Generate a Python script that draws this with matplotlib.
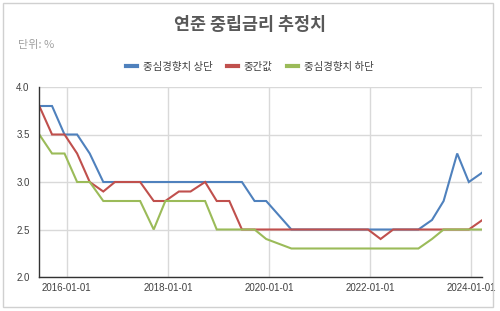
import matplotlib
matplotlib.use("Agg")
import matplotlib.pyplot as plt
import matplotlib.dates as mdates
from matplotlib.patches import Rectangle
import numpy as np
import pandas as pd

plt.rcParams['font.family'] = ['Noto Sans CJK KR', 'DejaVu Sans']

title = "연준 중립금리 추정치"
unit_label = "단위: %"
series_names = ["중심경향치 상단", "중간값", "중심경향치 하단"]
series_colors = ["#4F81BD", "#C0504D", "#9BBB59"]

dates = pd.to_datetime([
    "2015-06-17", "2015-09-17", "2015-12-16",
    "2016-03-16", "2016-06-15", "2016-09-21", "2016-12-14",
    "2017-03-15", "2017-06-14", "2017-09-20", "2017-12-13",
    "2018-03-21", "2018-06-13", "2018-09-26", "2018-12-19",
    "2019-03-20", "2019-06-19", "2019-09-18", "2019-12-11",
    "2020-06-10", "2020-09-16", "2020-12-16",
    "2021-03-17", "2021-06-16", "2021-09-22", "2021-12-15",
    "2022-03-16", "2022-06-15", "2022-09-21", "2022-12-14",
    "2023-03-22", "2023-06-14", "2023-09-20", "2023-12-13",
    "2024-03-20",
])

upper = [3.8, 3.8, 3.5,
         3.5, 3.3, 3.0, 3.0,
         3.0, 3.0, 3.0, 3.0,
         3.0, 3.0, 3.0, 3.0,
         3.0, 3.0, 2.8, 2.8,
         2.5, 2.5, 2.5,
         2.5, 2.5, 2.5, 2.5,
         2.5, 2.5, 2.5, 2.5,
         2.6, 2.8, 3.3, 3.0,
         3.1]

median = [3.8, 3.5, 3.5,
          3.3, 3.0, 2.9, 3.0,
          3.0, 3.0, 2.8, 2.8,
          2.9, 2.9, 3.0, 2.8,
          2.8, 2.5, 2.5, 2.5,
          2.5, 2.5, 2.5,
          2.5, 2.5, 2.5, 2.5,
          2.4, 2.5, 2.5, 2.5,
          2.5, 2.5, 2.5, 2.5,
          2.6]

lower = [3.5, 3.3, 3.3,
         3.0, 3.0, 2.8, 2.8,
         2.8, 2.8, 2.5, 2.8,
         2.8, 2.8, 2.8, 2.5,
         2.5, 2.5, 2.5, 2.4,
         2.3, 2.3, 2.3,
         2.3, 2.3, 2.3, 2.3,
         2.3, 2.3, 2.3, 2.3,
         2.4, 2.5, 2.5, 2.5,
         2.5]

y_ticks = [2.0, 2.5, 3.0, 3.5, 4.0]
x_ticks = pd.to_datetime(["2016-01-01", "2018-01-01", "2020-01-01", "2022-01-01", "2024-01-01"])

fig = plt.figure(figsize=(5.0, 3.11), dpi=100)
fig.patch.set_facecolor("white")

# chart frame
fig.patches.append(Rectangle((3 / 500, 1 - 307 / 311), 490 / 500, 304 / 311,
                             transform=fig.transFigure, fill=False,
                             edgecolor="#d0d0d0", linewidth=1.0))

ax = fig.add_axes([39.3 / 500, 1 - 277 / 311, (482.4 - 39.3) / 500, 190 / 311])

for vals, name, col in zip([upper, median, lower], series_names, series_colors):
    ax.plot(dates, vals, color=col, linewidth=1.5, label=name, solid_joinstyle="miter")

ax.set_ylim(2.0, 4.0)
ax.set_xlim(dates[0], dates[-1])
ax.set_yticks(y_ticks)
ax.set_yticklabels([f"{v:.1f}" for v in y_ticks], fontsize=7, color="#404040",
                   family=["Liberation Sans", "DejaVu Sans"])
ax.set_xticks(x_ticks)
ax.set_xticklabels([d.strftime("%Y-%m-%d") for d in x_ticks], fontsize=7, color="#404040",
                   family=["Liberation Sans", "DejaVu Sans"])
ax.tick_params(axis="both", length=0, pad=4)
ax.tick_params(axis="y", pad=7)
ax.grid(True, color="#d9d9d9", linewidth=1.0)
ax.set_axisbelow(True)
for s in ["top", "right"]:
    ax.spines[s].set_visible(False)
ax.spines["left"].set_color("#333333")
ax.spines["bottom"].set_color("#333333")
ax.spines["left"].set_linewidth(1.0)
ax.spines["bottom"].set_linewidth(1.0)

fig.text(0.5, 1 - 25 / 311, title, ha="center", va="center", fontsize=12.5,
         fontweight="bold", color="#595959")
fig.text(18 / 500, 1 - 45 / 311, unit_label, ha="left", va="center", fontsize=8,
         color="#a0a0a0")

leg = fig.legend(loc="center", bbox_to_anchor=(0.5, 1 - 67 / 311), ncol=3, frameon=False,
                 fontsize=7.5, handlelength=1.0, handletextpad=0.6, columnspacing=1.4,
                 borderaxespad=0)
for t in leg.get_texts():
    t.set_color("#404040")
for h in leg.get_lines():
    h.set_linewidth(3)

fig.savefig("out.png", dpi=100)
